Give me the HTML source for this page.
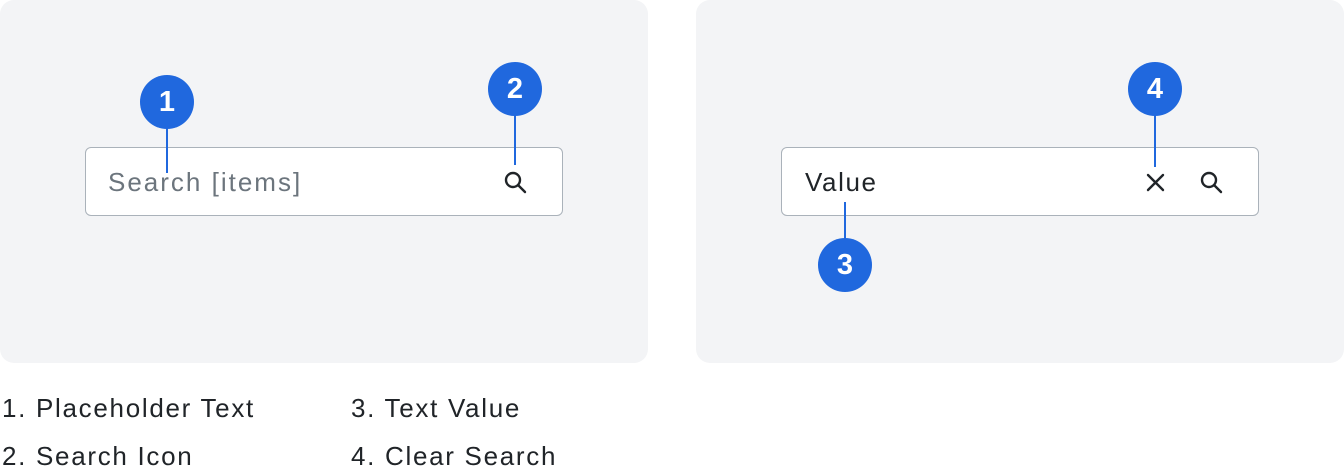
<!DOCTYPE html>
<html><head><style>
body{margin:0;width:1344px;height:476px;background:#fff;position:relative;font-family:"Liberation Sans",sans-serif;overflow:hidden}
.p{position:absolute;top:0;width:648px;height:363px;background:#f3f4f6;border-radius:14px}
.in{position:absolute;top:147px;width:476px;height:67px;background:#fff;border:1.5px solid #aab2ba;border-radius:6px}
.c{position:absolute;width:54px;height:54px;border-radius:50%;background:#2068de;color:#fff;font-weight:bold;font-size:29px;text-align:center;line-height:54px}
.l{position:absolute;width:2px;background:#2068de}
.t{position:absolute;font-size:26px;color:#202428;white-space:nowrap;letter-spacing:1.7px}
</style></head><body>
<div class="p" style="left:0"></div>
<div class="p" style="left:696px"></div>
<div class="in" style="left:85px"></div>
<div class="in" style="left:781px"></div>
<div class="t" style="left:108px;top:167px;color:#6c757d;letter-spacing:2px">Search [items]</div>
<div class="t" style="left:805px;top:167px;letter-spacing:1.6px">Value</div>
<svg style="position:absolute;left:0;top:0" width="1344" height="476">
<g fill="none" stroke="#202428" stroke-width="2.4" stroke-linecap="round">
<circle cx="513" cy="180" r="7"/><line x1="518" y1="185" x2="525" y2="192"/>
<circle cx="1209" cy="180" r="7"/><line x1="1214" y1="185" x2="1221" y2="192"/>
<line x1="1148" y1="175" x2="1163" y2="190"/><line x1="1163" y1="175" x2="1148" y2="190"/>
</g></svg>
<div class="l" style="left:166px;top:125px;height:48px"></div>
<div class="l" style="left:514px;top:112px;height:53px"></div>
<div class="l" style="left:1154px;top:112px;height:55px"></div>
<div class="l" style="left:844px;top:202px;height:40px"></div>
<div class="c" style="left:140px;top:75px">1</div>
<div class="c" style="left:488px;top:62px">2</div>
<div class="c" style="left:1128px;top:62px">4</div>
<div class="c" style="left:818px;top:238px">3</div>
<div class="t" style="left:2px;top:393px">1. Placeholder Text</div>
<div class="t" style="left:2px;top:441px">2. Search Icon</div>
<div class="t" style="left:351px;top:393px">3. Text Value</div>
<div class="t" style="left:351px;top:441px">4. Clear Search</div>
</body></html>
